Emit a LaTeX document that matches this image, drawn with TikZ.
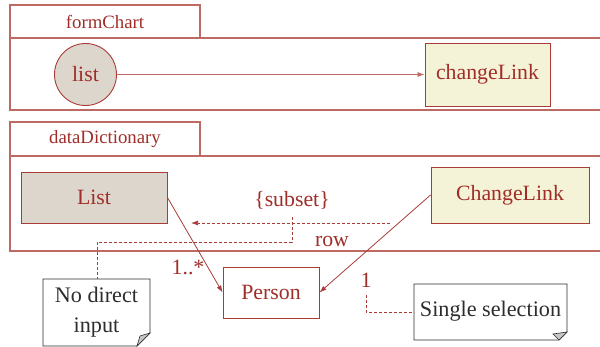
\documentclass[tikz,border=0pt]{standalone}
\usepackage{fontspec}
\setmainfont{Liberation Serif}
\usetikzlibrary{arrows.meta}
\definecolor{txtred}{RGB}{160,45,40}
\definecolor{linered}{RGB}{170,60,55}
\definecolor{framered}{RGB}{190,105,100}
\definecolor{circfill}{RGB}{220,214,205}
\definecolor{boxfill}{RGB}{245,243,215}
\definecolor{notegray}{RGB}{45,45,45}
\begin{document}
\begin{tikzpicture}[x=1pt,y=-1pt,
  bigtxt/.style={font=\fontsize{21.8}{25}\selectfont},
  tabtxt/.style={font=\fontsize{18.8}{22}\selectfont, text=txtred},
  framebox/.style={draw=framered, line width=1.2pt},
  elem/.style={draw=linered, line width=0.9pt, bigtxt, text=txtred, inner sep=0pt},
  assoc/.style={draw=linered, line width=0.8pt},
  tip/.style={-{Latex[length=7pt,width=5pt]}},
  dashline/.style={draw=linered, line width=0.7pt, dash pattern=on 3pt off 2pt},
  lbl/.style={bigtxt, text=txtred, inner sep=0pt},
  notetxt/.style={font=\fontsize{22.2}{30}\selectfont, text=notegray, align=center, inner sep=0pt}
]
\useasboundingbox (0,0) rectangle (600,347);
% frame 1
\draw[framebox] (10,5) rectangle (200,38);
\node[tabtxt] (tab1) at (105,21.5) {formChart};
\draw[framebox] (600,38) -- (10,38) -- (10,110) -- (600,110);
% frame 2
\draw[framebox] (10,122) rectangle (200,156);
\node[tabtxt] (tab2) at (105,139) {dataDictionary};
\draw[framebox] (600,156) -- (10,156) -- (10,251) -- (600,251);
% elements
\node[elem, circle, fill=circfill, minimum size=62pt] (list) at (85.5,74.5) {list};
\node[elem, rectangle, fill=boxfill, minimum width=125pt, minimum height=63pt] (changeLink) at (487.5,74.5) {changeLink};
\node[elem, rectangle, fill=circfill, minimum width=146pt, minimum height=51pt] (List) at (94,197.5) {List};
\node[elem, rectangle, fill=boxfill, minimum width=158pt, minimum height=56pt] (ChangeLink) at (510,195) {ChangeLink};
\node[elem, rectangle, fill=white, minimum width=96pt, minimum height=51pt] (Person) at (271,292.5) {Person};
% connectors
\draw[assoc, draw=framered, tip] (list) -- (changeLink);
\draw[assoc, tip] (List.east) -- (Person.west);
\draw[assoc, tip] (ChangeLink.west) -- (Person.east);
% labels
\node[lbl] (subset) at (292,200) {\{subset\}};
\node[lbl] (row) at (332,241) {row};
\node[lbl] (mult1) at (188,267) {1..*};
\node[lbl] (mult2) at (366,280) {1};
% constraint arrow
\coordinate (sA) at (390,223);
\coordinate (sB) at (191,223);
\draw[dashline, tip] (sA) -- (sB);
% notes
\fill[white] (43,279) -- (150,279) -- (150,333) -- (137,346) -- (43,346) -- cycle;
\draw[notegray, line width=0.9pt] (43,279) -- (150,279) -- (150,333) -- (137,346) -- (43,346) -- cycle;
\filldraw[fill=gray!45, draw=notegray, line width=0.6pt] (150,333) -- (137,346) -- (140,336) -- cycle;
\node[notetxt] (note1) at (96.5,312) {No direct\\input};
\fill[white] (414,284) -- (567,284) -- (567,332) -- (559,340) -- (414,340) -- cycle;
\draw[notegray, line width=0.9pt] (414,284) -- (567,284) -- (567,332) -- (559,340) -- (414,340) -- cycle;
\filldraw[fill=gray!45, draw=notegray, line width=0.6pt] (567,332) -- (559,340) -- (553,334) -- cycle;
\node[notetxt] (note2) at (490.5,311.5) {Single selection};
% note connectors
\coordinate (c1) at (292,217);
\coordinate (c2) at (292,242);
\coordinate (c3) at (97,242);
\coordinate (c4) at (97,279);
\draw[dashline] (c1) -- (c2) -- (c3) -- (c4);
\coordinate (d1) at (366,295);
\coordinate (d2) at (366,312);
\coordinate (d3) at (414,312);
\draw[dashline] (d1) -- (d2) -- (d3);
\end{tikzpicture}
\end{document}
